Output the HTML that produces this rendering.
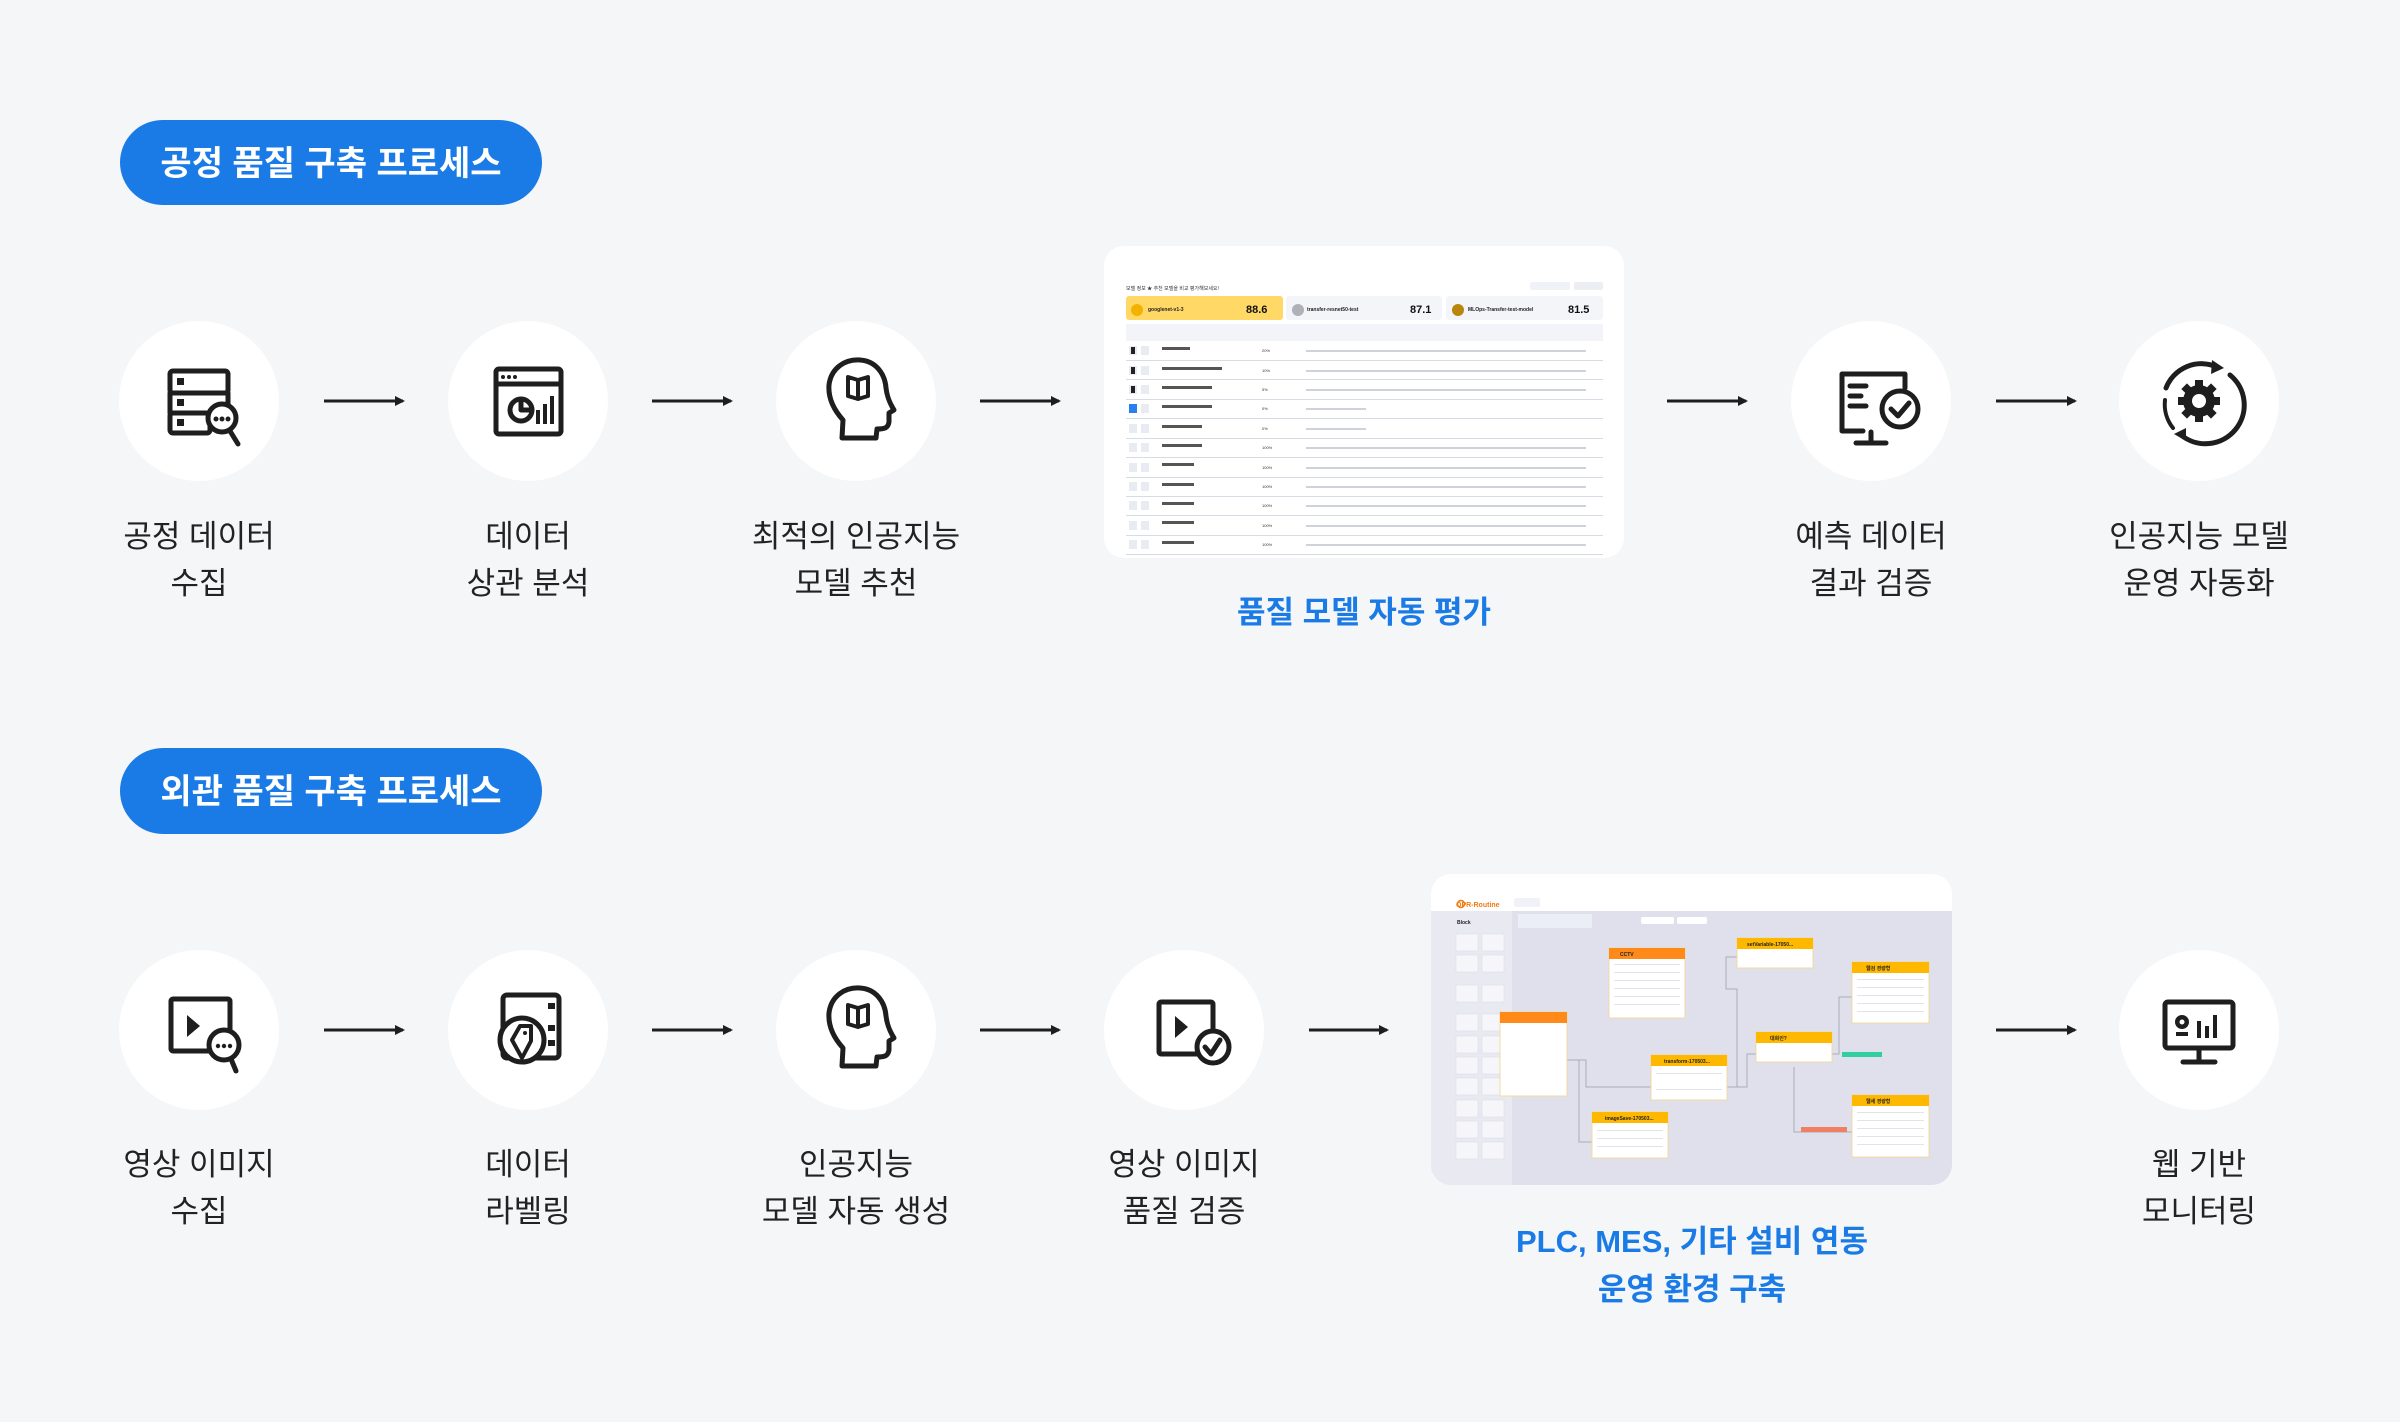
<!DOCTYPE html>
<html><head><meta charset="utf-8"><style>
html,body{margin:0;padding:0;background:#f5f6f8}
body{width:2400px;height:1422px;overflow:hidden;position:relative;font-family:"Liberation Sans","Noto Sans CJK KR",sans-serif}
svg{position:absolute;left:0;top:0}
.lbl{font-family:"Liberation Sans","Noto Sans CJK KR",sans-serif;font-size:31px;fill:#222;text-anchor:middle}
.cap{font-family:"Liberation Sans","Noto Sans CJK KR",sans-serif;font-size:31px;font-weight:bold;fill:#1a7be6;text-anchor:middle}
.pill{font-family:"Liberation Sans","Noto Sans CJK KR",sans-serif;font-size:34px;font-weight:bold;fill:#fff;text-anchor:middle}
.ic{fill:none;stroke:#1e1e1e;stroke-width:5;stroke-linejoin:round;stroke-linecap:round}
.t{font-family:"Liberation Sans",sans-serif;font-size:5px;fill:#333}
</style></head><body>
<svg width="2400" height="1422" viewBox="0 0 2400 1422">
<defs>
<marker id="ah" markerWidth="10" markerHeight="10" refX="8" refY="5" orient="auto" markerUnits="userSpaceOnUse"><path d="M0,0 L10,5 L0,10 Z" fill="#1e1e1e"/></marker>
</defs>
<!-- pills -->
<rect x="120" y="120" width="422" height="85" rx="42.5" fill="#1a7be6"/>
<text class="pill" x="331" y="175">공정 품질 구축 프로세스</text>
<rect x="120" y="748" width="422" height="86" rx="43" fill="#1a7be6"/>
<text class="pill" x="331" y="803">외관 품질 구축 프로세스</text>

<!-- row1 circles -->
<g fill="#fff">
<circle cx="199" cy="401" r="80"/><circle cx="528" cy="401" r="80"/><circle cx="856" cy="401" r="80"/>
<circle cx="1871" cy="401" r="80"/><circle cx="2199" cy="401" r="80"/>
<circle cx="199" cy="1030" r="80"/><circle cx="528" cy="1030" r="80"/><circle cx="856" cy="1030" r="80"/>
<circle cx="1184" cy="1030" r="80"/><circle cx="2199" cy="1030" r="80"/>
</g>
<!-- arrows -->
<g stroke="#1e1e1e" stroke-width="3" marker-end="url(#ah)">
<line x1="324" y1="401" x2="403" y2="401"/><line x1="652" y1="401" x2="731" y2="401"/>
<line x1="980" y1="401" x2="1059" y2="401"/><line x1="1667" y1="401" x2="1746" y2="401"/>
<line x1="1996" y1="401" x2="2075" y2="401"/>
<line x1="324" y1="1030" x2="403" y2="1030"/><line x1="652" y1="1030" x2="731" y2="1030"/>
<line x1="980" y1="1030" x2="1059" y2="1030"/><line x1="1309" y1="1030" x2="1387" y2="1030"/>
<line x1="1996" y1="1030" x2="2075" y2="1030"/>
</g>

<!-- icons row1 -->
<g class="ic">
 <!-- server search -->
 <rect x="170" y="371" width="58" height="22" rx="3"/><rect x="170" y="393" width="58" height="20"/><rect x="170" y="413" width="40" height="20" rx="3"/>
 <circle cx="222" cy="418" r="14" fill="#fff"/><line x1="230" y1="431" x2="238" y2="444"/>
</g>
<g fill="#1e1e1e"><rect x="177" y="378" width="7" height="7"/><rect x="177" y="399" width="7" height="7"/><rect x="177" y="419" width="7" height="7"/>
<circle cx="216" cy="419" r="2.5"/><circle cx="222" cy="419" r="2.5"/><circle cx="228" cy="419" r="2.5"/></g>
<!-- dashboard -->
<g class="ic"><rect x="496" y="369" width="65" height="65" rx="3"/><line x1="496" y1="384" x2="561" y2="384"/>
<circle cx="521" cy="410" r="11"/><path d="M521,399 V410 H532"/></g>
<g fill="#1e1e1e"><circle cx="503" cy="377" r="2"/><circle cx="509" cy="377" r="2"/><circle cx="515" cy="377" r="2"/>
<rect x="536" y="410" width="4" height="14"/><rect x="543" y="404" width="4" height="20"/><rect x="550" y="396" width="4" height="28"/></g>
<!-- head -->
<g class="ic" id="head"><path d="M842,438 L843,420 C834,410 828,398 829,385 C831,368 845,359 860,360 C876,361 885,374 886,388 C887,396 889,402 894,410 L889,413 L889,422 C888,428 885,429 877,429 L876,438 Z"/>
<path d="M848,377 L858,380 L868,377 L868,396 L858,399 L848,396 Z M858,380 V399" stroke-width="4"/></g>
<!-- monitor check -->
<g class="ic"><path d="M1863,431 H1842 V374 H1905 V388"/><line x1="1871" y1="432" x2="1871" y2="443"/><line x1="1856" y1="443" x2="1886" y2="443"/>
<line x1="1850" y1="386" x2="1866" y2="386"/><line x1="1850" y1="396" x2="1861" y2="396"/><line x1="1850" y1="406" x2="1866" y2="406"/>
<circle cx="1900" cy="409" r="18" fill="#fff"/><path d="M1891,409 L1898,416 L1909,403"/></g>
<!-- gear cycle -->
<g class="ic"><path d="M2217,367 A38,38 0 0,0 2166,388"/><path d="M2230,375 A38,38 0 0,1 2181,435"/><path d="M2173,428 A38,38 0 0,1 2165,400" stroke-width="4"/></g>
<polygon points="2212,360 2224,368 2211,374" fill="#1e1e1e"/><polygon points="2186,428 2174,434 2186,441" fill="#1e1e1e"/>
<g fill="#1e1e1e"><circle cx="2199" cy="401" r="16"/>
<rect x="2195" y="380" width="8" height="42"/><rect x="2178" y="397" width="42" height="8"/>
<rect x="2195" y="380" width="8" height="42" transform="rotate(45 2199 401)"/><rect x="2195" y="380" width="8" height="42" transform="rotate(-45 2199 401)"/></g>
<circle cx="2199" cy="401" r="7" fill="#fff"/>

<!-- icons row2 -->
<g class="ic"><rect x="171" y="999" width="59" height="52" rx="2"/><circle cx="224" cy="1045" r="15" fill="#fff"/><line x1="231" y1="1059" x2="236" y2="1071"/></g>
<polygon points="187,1015 187,1037 200,1026" fill="#1e1e1e"/>
<g fill="#1e1e1e"><circle cx="218" cy="1046" r="2.2"/><circle cx="224" cy="1046" r="2.2"/><circle cx="230" cy="1046" r="2.2"/></g>
<g class="ic"><rect x="503" y="995" width="56" height="63" rx="4"/><circle cx="522" cy="1040" r="22" fill="#fff"/>
<path d="M522,1058 L512,1040 L520,1026 L531,1026 L531,1041 Z" stroke-width="4"/></g>
<g fill="#1e1e1e"><rect x="548" y="1003" width="7" height="6"/><rect x="548" y="1025" width="7" height="6"/><rect x="548" y="1040" width="7" height="6"/><circle cx="525" cy="1033" r="2"/></g>
<use href="#head" transform="translate(0,628)"/>
<g class="ic"><rect x="1159" y="1002" width="54" height="52" rx="2"/><circle cx="1213" cy="1047" r="16" fill="#fff"/><path d="M1205,1047 L1211,1054 L1220,1040"/></g>
<polygon points="1175,1016 1175,1038 1188,1027" fill="#1e1e1e"/>
<g class="ic"><rect x="2165" y="1002" width="68" height="46" rx="3"/><line x1="2199" y1="1049" x2="2199" y2="1060"/><line x1="2183" y1="1062" x2="2215" y2="1062"/></g>
<g fill="#1e1e1e"><circle cx="2182" cy="1022" r="7"/><rect x="2197" y="1021" width="4" height="17"/><rect x="2205" y="1026" width="4" height="12"/><rect x="2213" y="1015" width="4" height="23"/><rect x="2176" y="1032" width="12" height="4"/></g>
<circle cx="2182" cy="1022" r="2.5" fill="#fff"/>

<!-- labels -->
<text class="lbl" x="199" y="547">공정 데이터</text><text class="lbl" x="199" y="594">수집</text>
<text class="lbl" x="528" y="547">데이터</text><text class="lbl" x="528" y="594">상관 분석</text>
<text class="lbl" x="856" y="547">최적의 인공지능</text><text class="lbl" x="856" y="594">모델 추천</text>
<text class="lbl" x="1871" y="547">예측 데이터</text><text class="lbl" x="1871" y="594">결과 검증</text>
<text class="lbl" x="2199" y="547">인공지능 모델</text><text class="lbl" x="2199" y="594">운영 자동화</text>
<text class="cap" x="1364" y="623">품질 모델 자동 평가</text>
<text class="lbl" x="199" y="1175">영상 이미지</text><text class="lbl" x="199" y="1222">수집</text>
<text class="lbl" x="528" y="1175">데이터</text><text class="lbl" x="528" y="1222">라벨링</text>
<text class="lbl" x="856" y="1175">인공지능</text><text class="lbl" x="856" y="1222">모델 자동 생성</text>
<text class="lbl" x="1184" y="1175">영상 이미지</text><text class="lbl" x="1184" y="1222">품질 검증</text>
<text class="lbl" x="2199" y="1175">웹 기반</text><text class="lbl" x="2199" y="1222">모니터링</text>
<text class="cap" x="1692" y="1252">PLC, MES, 기타 설비 연동</text>
<text class="cap" x="1692" y="1300">운영 환경 구축</text>

<!-- screenshot 1 -->
<rect x="1104" y="246" width="520" height="312" rx="20" fill="#fff"/>
<text class="t" x="1126" y="290" font-size="5">모델 정보  ★ 추천 모델을 비교 평가해보세요!</text>
<rect x="1530" y="282" width="40" height="8" rx="2" fill="#f0f2f8"/><rect x="1574" y="282" width="29" height="8" rx="2" fill="#eceef4"/>
<rect x="1126" y="296" width="157" height="24" rx="3" fill="#ffd866"/>
<rect x="1286" y="296" width="156" height="24" rx="3" fill="#f4f5f9"/>
<rect x="1446" y="296" width="157" height="24" rx="3" fill="#f4f5f9"/>
<circle cx="1137" cy="310" r="6" fill="#f2b200"/><circle cx="1298" cy="310" r="6" fill="#b0b0b8"/><circle cx="1458" cy="310" r="6" fill="#b8860b"/>
<text x="1148" y="311" font-size="5" fill="#222" font-weight="bold">googlenet-v1-3</text>
<text x="1307" y="311" font-size="5" fill="#222" font-weight="bold">transfer-resnet50-test</text>
<text x="1468" y="311" font-size="5" fill="#222" font-weight="bold">MLOps-Transfer-test-model</text>
<text x="1246" y="313" font-size="11" fill="#111" font-weight="bold">88.6</text>
<text x="1410" y="313" font-size="11" fill="#111" font-weight="bold">87.1</text>
<text x="1568" y="313" font-size="11" fill="#111" font-weight="bold">81.5</text>
<rect x="1126" y="324" width="477" height="17" fill="#f2f4f9"/>
<g fill="#d8dbe3">
<rect x="1126" y="360" width="477" height="1"/><rect x="1126" y="379" width="477" height="1"/><rect x="1126" y="399" width="477" height="1"/>
<rect x="1126" y="418" width="477" height="1"/><rect x="1126" y="438" width="477" height="1"/><rect x="1126" y="457" width="477" height="1"/>
<rect x="1126" y="477" width="477" height="1"/><rect x="1126" y="496" width="477" height="1"/><rect x="1126" y="515" width="477" height="1"/>
<rect x="1126" y="535" width="477" height="1"/><rect x="1126" y="554" width="477" height="1"/>
</g>
<g fill="#e9ebf2">
<rect x="1129" y="346" width="8" height="9"/><rect x="1141" y="346" width="8" height="9"/><rect x="1129" y="366" width="8" height="9"/><rect x="1141" y="366" width="8" height="9"/>
<rect x="1129" y="385" width="8" height="9"/><rect x="1141" y="385" width="8" height="9"/><rect x="1141" y="404" width="8" height="9"/>
<rect x="1129" y="424" width="8" height="9"/><rect x="1141" y="424" width="8" height="9"/>
<rect x="1129" y="443" width="8" height="9"/><rect x="1141" y="443" width="8" height="9"/><rect x="1129" y="463" width="8" height="9"/><rect x="1141" y="463" width="8" height="9"/>
<rect x="1129" y="482" width="8" height="9"/><rect x="1141" y="482" width="8" height="9"/><rect x="1129" y="501" width="8" height="9"/><rect x="1141" y="501" width="8" height="9"/>
<rect x="1129" y="521" width="8" height="9"/><rect x="1141" y="521" width="8" height="9"/><rect x="1129" y="540" width="8" height="9"/><rect x="1141" y="540" width="8" height="9"/>
</g>
<rect x="1131" y="347" width="4" height="7" fill="#222"/><rect x="1131" y="367" width="4" height="7" fill="#222"/><rect x="1131" y="386" width="4" height="7" fill="#222"/>
<rect x="1129" y="404" width="8" height="9" fill="#2a7ef0"/>
<g fill="#555">
<rect x="1162" y="347" width="28" height="3"/><rect x="1162" y="367" width="60" height="3"/><rect x="1162" y="386" width="50" height="3"/><rect x="1162" y="405" width="50" height="3"/>
<rect x="1162" y="425" width="40" height="3"/><rect x="1162" y="444" width="40" height="3"/><rect x="1162" y="463" width="32" height="3"/><rect x="1162" y="483" width="32" height="3"/>
<rect x="1162" y="502" width="32" height="3"/><rect x="1162" y="521" width="32" height="3"/><rect x="1162" y="541" width="32" height="3"/>
</g>
<g fill="#bbb" font-size="4" font-family="Liberation Sans">
<text x="1262" y="352" fill="#333">20%</text><text x="1262" y="372" fill="#333">10%</text><text x="1262" y="391" fill="#333">5%</text><text x="1262" y="410" fill="#333">0%</text><text x="1262" y="430" fill="#333">0%</text>
<text x="1262" y="449" fill="#333">100%</text><text x="1262" y="469" fill="#333">100%</text><text x="1262" y="488" fill="#333">100%</text><text x="1262" y="507" fill="#333">100%</text><text x="1262" y="527" fill="#333">100%</text><text x="1262" y="546" fill="#333">100%</text>
</g>
<g fill="#cfd2da">
<rect x="1306" y="350" width="280" height="2"/><rect x="1306" y="370" width="280" height="2"/><rect x="1306" y="389" width="280" height="2"/>
<rect x="1306" y="408" width="60" height="2"/><rect x="1306" y="428" width="60" height="2"/>
<rect x="1306" y="447" width="280" height="2"/><rect x="1306" y="467" width="280" height="2"/><rect x="1306" y="486" width="280" height="2"/>
<rect x="1306" y="505" width="280" height="2"/><rect x="1306" y="525" width="280" height="2"/><rect x="1306" y="544" width="280" height="2"/>
</g>

<!-- screenshot 2 -->
<clipPath id="c2"><rect x="1431" y="874" width="521" height="311" rx="20"/></clipPath>
<g clip-path="url(#c2)">
<rect x="1431" y="874" width="521" height="311" fill="#fff"/>
<rect x="1431" y="911" width="521" height="274" fill="#dfe0ec"/>
<rect x="1431" y="911" width="81" height="274" fill="#e9eaf1"/>
<text x="1456" y="907" font-size="7" fill="#f07a10" font-weight="bold">OPR-Routine</text>
<circle cx="1461" cy="904" r="3.5" fill="none" stroke="#f07a10" stroke-width="1.5"/>
<rect x="1514" y="898" width="26" height="9" rx="2" fill="#f1f2f7"/>
<text x="1457" y="924" font-size="5" fill="#222" font-weight="bold">Block</text>
<g fill="#f6f6fa" stroke="#d8d9e2" stroke-width="0.5">
<rect x="1456" y="934" width="22" height="17"/><rect x="1482" y="934" width="22" height="17"/>
<rect x="1456" y="955" width="22" height="17"/><rect x="1482" y="955" width="22" height="17"/>
<rect x="1456" y="985" width="22" height="17"/><rect x="1482" y="985" width="22" height="17"/>
<rect x="1456" y="1014" width="22" height="17"/><rect x="1482" y="1014" width="22" height="17"/>
<rect x="1456" y="1036" width="22" height="17"/><rect x="1482" y="1036" width="22" height="17"/>
<rect x="1456" y="1057" width="22" height="17"/><rect x="1482" y="1057" width="22" height="17"/>
<rect x="1456" y="1078" width="22" height="17"/><rect x="1482" y="1078" width="22" height="17"/>
<rect x="1456" y="1100" width="22" height="17"/><rect x="1482" y="1100" width="22" height="17"/>
<rect x="1456" y="1121" width="22" height="17"/><rect x="1482" y="1121" width="22" height="17"/>
<rect x="1456" y="1142" width="22" height="17"/><rect x="1482" y="1142" width="22" height="17"/>
</g>
<rect x="1518" y="914" width="74" height="14" fill="#eceef5"/>
<rect x="1641" y="917" width="33" height="7" rx="2" fill="#fff"/><rect x="1677" y="917" width="30" height="7" rx="2" fill="#fff"/>
<!-- connectors -->
<g fill="none" stroke="#a9abb6" stroke-width="1">
<path d="M1567,1060 H1586 V1087 H1651"/><path d="M1579,1060 V1142 H1592"/>
<path d="M1727,1087 H1747 V1054 H1756"/><path d="M1737,1087 V989 H1726 V957 H1737"/>
<path d="M1832,1054 H1839 V997 H1852"/><path d="M1794,1067 V1132 H1852"/>
</g>
<rect x="1842" y="1052" width="40" height="5" fill="#2fcfa0"/><rect x="1801" y="1127" width="46" height="5" fill="#f08060"/>
<!-- nodes -->
<g fill="#fff" stroke="#f3d9a0" stroke-width="1">
<rect x="1609" y="948" width="76" height="70"/><rect x="1737" y="938" width="76" height="30"/>
<rect x="1852" y="962" width="77" height="61"/><rect x="1756" y="1032" width="76" height="30"/>
<rect x="1651" y="1055" width="76" height="45"/><rect x="1592" y="1112" width="76" height="46"/>
<rect x="1852" y="1095" width="77" height="62"/><rect x="1500" y="1012" width="67" height="84"/>
</g>
<rect x="1609" y="948" width="76" height="11" fill="#ff8a1a"/><rect x="1500" y="1012" width="67" height="11" fill="#ff8a1a"/>
<g fill="#ffb800">
<rect x="1737" y="938" width="76" height="11"/><rect x="1852" y="962" width="77" height="11"/><rect x="1756" y="1032" width="76" height="11"/>
<rect x="1651" y="1055" width="76" height="11"/><rect x="1592" y="1112" width="76" height="11"/><rect x="1852" y="1095" width="77" height="11"/>
</g>
<g font-size="5" font-weight="bold" fill="#222">
<text x="1620" y="956">CCTV</text><text x="1747" y="946">setVariable-17050...</text><text x="1866" y="970">웹검 경량형</text>
<text x="1770" y="1040">대화인?</text><text x="1664" y="1063">transform-170503...</text><text x="1605" y="1120">imageSave-170503...</text><text x="1866" y="1103">웹세 경량형</text>
</g>
<g fill="#e2e3e8">
<rect x="1614" y="964" width="66" height="1"/><rect x="1614" y="972" width="66" height="1"/><rect x="1614" y="980" width="66" height="1"/><rect x="1614" y="988" width="66" height="1"/><rect x="1614" y="996" width="66" height="1"/><rect x="1614" y="1004" width="66" height="1"/>
<rect x="1857" y="979" width="67" height="1"/><rect x="1857" y="987" width="67" height="1"/><rect x="1857" y="995" width="67" height="1"/><rect x="1857" y="1003" width="67" height="1"/><rect x="1857" y="1011" width="67" height="1"/>
<rect x="1857" y="1112" width="67" height="1"/><rect x="1857" y="1120" width="67" height="1"/><rect x="1857" y="1128" width="67" height="1"/><rect x="1857" y="1136" width="67" height="1"/><rect x="1857" y="1144" width="67" height="1"/>
<rect x="1597" y="1130" width="66" height="1"/><rect x="1597" y="1138" width="66" height="1"/><rect x="1597" y="1146" width="66" height="1"/>
<rect x="1656" y="1073" width="66" height="1"/><rect x="1656" y="1089" width="66" height="1"/>
</g>
</g>
</svg>
</body></html>
